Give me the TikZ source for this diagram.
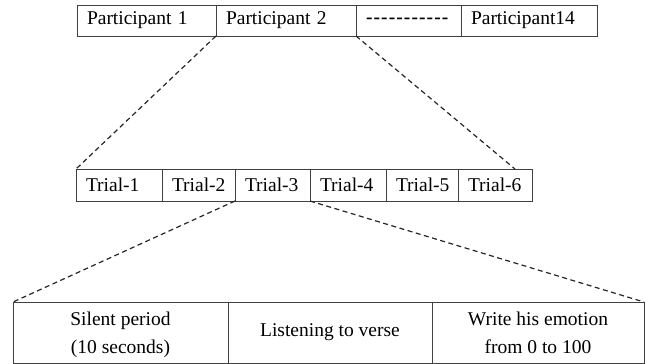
\documentclass[tikz,border=0pt]{standalone}
\usepackage{fontspec}
\setmainfont{Liberation Serif}
\begin{document}
\begin{tikzpicture}[x=1pt,y=-1pt,
  cell/.style={draw=black!75, line width=0.9pt, inner sep=0pt, outer sep=0pt, anchor=north west,
    font=\fontsize{19.5}{28}\selectfont, align=center},
  lcell/.style={cell, inner xsep=10pt, align=left, text width=#1-20pt, minimum width=#1},
  link/.style={draw=black!85, line width=1.2pt, dash pattern=on 5pt off 3.5pt}]
\useasboundingbox (0,0) rectangle (646,364);
% top row
\node[lcell=139pt, minimum height=31] (p1) at (77,5) {Participant 1};
\node[lcell=140pt, minimum height=31] (p2) at (216,5) {Participant 2};
\node[lcell=105pt, minimum height=31] (p3) at (356,5) {\bfseries\mbox{-\kern1.1pt-\kern1.1pt-\kern1.1pt-\kern1.1pt-\kern1.1pt-\kern1.1pt-\kern1.1pt-\kern1.1pt-\kern1.1pt-\kern1.1pt-}};
\node[lcell=136pt, minimum height=31] (p4) at (461,5) {Participant14};
% trial row
\node[lcell=86pt, minimum height=32] (t1) at (76,169) {\mbox{Trial-1}};
\node[lcell=73pt, minimum height=32] (t2) at (162,169) {\mbox{Trial-2}};
\node[lcell=75pt, minimum height=32] (t3) at (235,169) {\mbox{Trial-3}};
\node[lcell=76pt, minimum height=32] (t4) at (310,169) {\mbox{Trial-4}};
\node[lcell=72pt, minimum height=32] (t5) at (386,169) {\mbox{Trial-5}};
\node[lcell=74pt, minimum height=32] (t6) at (458,169) {\mbox{Trial-6}};
% bottom row
\node[cell, minimum width=215, minimum height=61, text depth=-3pt] (b1) at (13,302) {Silent period\\(10 seconds)};
\node[cell, minimum width=204, minimum height=61] (b2) at (228,302) {Listening to verse};
\node[cell, minimum width=212, minimum height=61, text depth=-3pt] (b3) at (432,302) {Write his emotion\\from 0 to 100};
% connectors
\coordinate (t6in) at (515,169);
\draw[link] (p2.south west) -- (t1.north west);
\draw[link] (p2.south east) -- (t6in);
\draw[link] (t3.south west) -- (b1.north west);
\draw[link] (t3.south east) -- (b3.north east);
\end{tikzpicture}
\end{document}
